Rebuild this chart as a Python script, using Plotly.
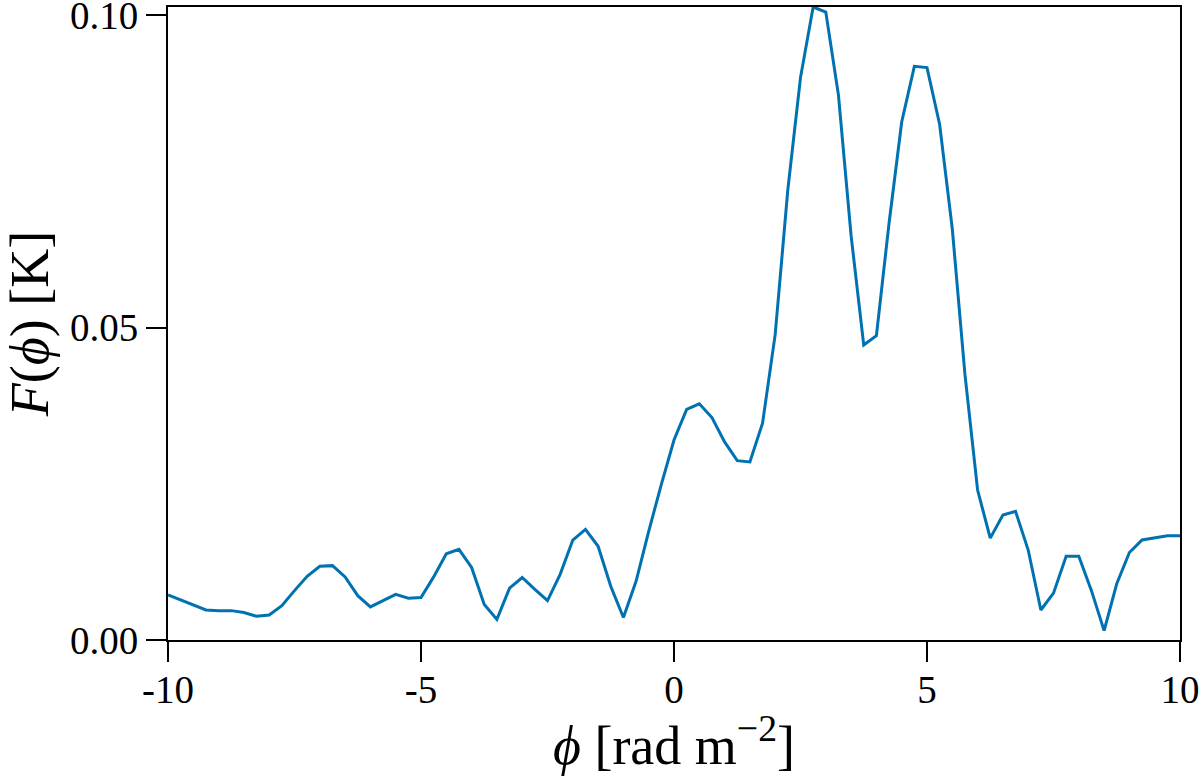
import plotly.graph_objects as go

# Faraday depth grid [rad m^-2]
phi = [
    -10.0, -9.75, -9.5, -9.25, -9.0, -8.75, -8.5, -8.25, -8.0, -7.75,
    -7.5, -7.25, -7.0, -6.75, -6.5, -6.25, -6.0, -5.75, -5.5, -5.25,
    -5.0, -4.75, -4.5, -4.25, -4.0, -3.75, -3.5, -3.25, -3.0, -2.75,
    -2.5, -2.25, -2.0, -1.75, -1.5, -1.25, -1.0, -0.75, -0.5, -0.25,
    0.0, 0.25, 0.5, 0.75, 1.0, 1.25, 1.5, 1.75, 2.0, 2.25,
    2.5, 2.75, 3.0, 3.25, 3.5, 3.75, 4.0, 4.25, 4.5, 4.75,
    5.0, 5.25, 5.5, 5.75, 6.0, 6.25, 6.5, 6.75, 7.0, 7.25,
    7.5, 7.75, 8.0, 8.25, 8.5, 8.75, 9.0, 9.25, 9.5, 9.75,
    10.0,
]

# Faraday spectrum amplitude [K]
F_phi = [
    0.0072, 0.0064, 0.0055, 0.0048, 0.0047, 0.0047, 0.0044, 0.0038, 0.0040, 0.0055,
    0.0079, 0.0102, 0.0118, 0.0119, 0.0101, 0.0071, 0.0053, 0.0063, 0.0073, 0.0067,
    0.0068, 0.0101, 0.0138, 0.0145, 0.0116, 0.0057, 0.0033, 0.0083, 0.0100, 0.0081,
    0.0063, 0.0105, 0.0160, 0.0177, 0.0150, 0.0086, 0.0036, 0.0094, 0.0174, 0.0249,
    0.0320, 0.0369, 0.0378, 0.0356, 0.0317, 0.0287, 0.0285, 0.0347, 0.0489, 0.0721,
    0.0900, 0.1013, 0.1005, 0.0872, 0.0647, 0.0472, 0.0487, 0.0667, 0.0829, 0.0918,
    0.0916, 0.0825, 0.0658, 0.0425, 0.0240, 0.0163, 0.0200, 0.0206, 0.0144, 0.0048,
    0.0075, 0.0134, 0.0134, 0.0079, 0.0015, 0.0090, 0.0140, 0.0160, 0.0163, 0.0167,
    0.0167,
]

x_ticks = [-10, -5, 0, 5, 10]
x_ticklabels = ["-10", "-5", "0", "5", "10"]
y_ticks = [0.0, 0.05, 0.10]
y_ticklabels = ["0.00", "0.05", "0.10"]

font_family = "Liberation Serif, DejaVu Serif, serif"

fig = go.Figure(
    go.Scatter(
        x=phi,
        y=F_phi,
        mode="lines",
        line=dict(color="#0072B2", width=3),
        showlegend=False,
    )
)

axis_common = dict(
    showline=True,
    linecolor="black",
    linewidth=2,
    mirror=True,
    showgrid=False,
    zeroline=False,
    automargin=False,
    ticks="outside",
    ticklen=20,
    tickwidth=2,
    tickcolor="black",
    ticklabeloverflow="allow",
    tickfont=dict(family=font_family, size=39, color="black"),
)

fig.update_xaxes(
    range=[-10, 10],
    tickvals=x_ticks,
    ticktext=x_ticklabels,
    ticklabelstandoff=-6,
    title=dict(
        text="<i>ϕ</i> [rad m<sup>−2</sup>]",
        font=dict(family=font_family, size=54, color="black"),
        standoff=8,
    ),
    **axis_common,
)
fig.update_yaxes(
    range=[0, max(F_phi)],
    tickvals=y_ticks,
    ticktext=y_ticklabels,
    title=dict(
        text="<i>F</i>(<i>ϕ</i>) [K]",
        font=dict(family=font_family, size=54, color="black"),
        standoff=10,
    ),
    **axis_common,
)

fig.update_layout(
    width=1200,
    height=776,
    margin=dict(l=168, r=20, t=7, b=136),
    plot_bgcolor="white",
    paper_bgcolor="white",
)

# drop the default page margin so the figure fills the window exactly
fig.write_html(
    "out.html",
    config={"displayModeBar": False},
    post_script="document.body.style.margin='0';",
)
